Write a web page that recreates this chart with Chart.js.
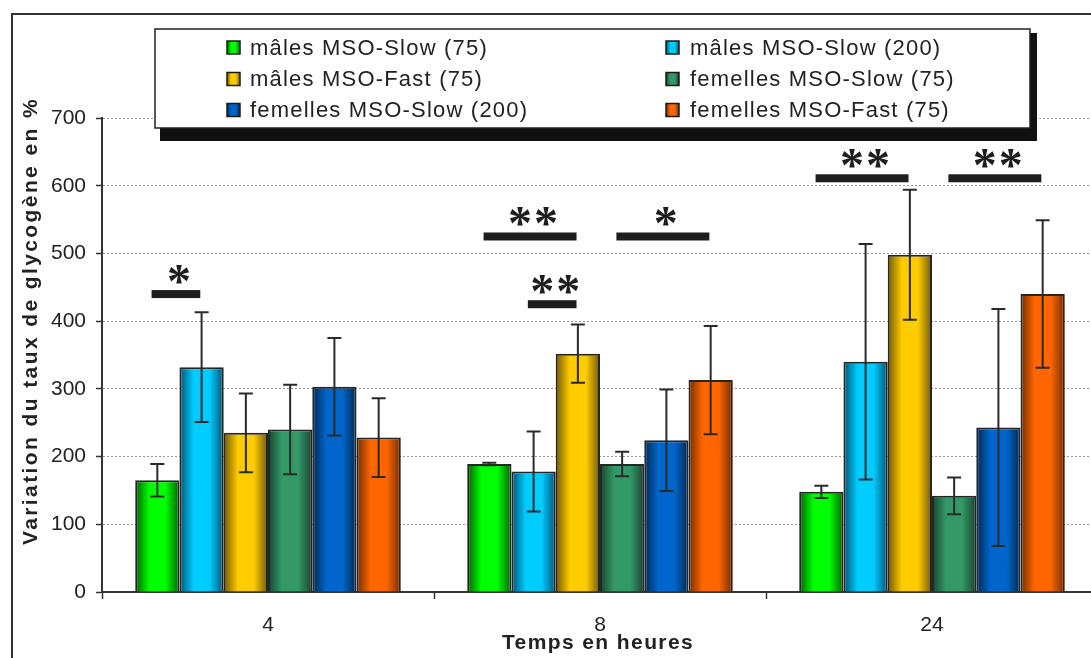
<!DOCTYPE html>
<html><head><meta charset="utf-8">
<script src="https://cdn.jsdelivr.net/npm/chart.js@4.4.1/dist/chart.umd.min.js"></script>
<style>html,body{margin:0;padding:0;overflow:hidden;background:#fff;width:1091px;height:658px}canvas{display:block}</style>
</head><body><canvas id="c" width="1120" height="658"></canvas>
<script>
// ---- data ----
const categories = ['4', '8', '24'];
const seriesLabels = ['mâles MSO-Slow (75)', 'mâles MSO-Slow (200)', 'mâles MSO-Fast (75)',
  'femelles MSO-Slow (75)', 'femelles MSO-Slow (200)', 'femelles MSO-Fast (75)'];
const malesSlow75 = [165, 189, 148];
const malesSlow200 = [332, 178, 340];
const malesFast75 = [235, 352, 498];
const femellesSlow75 = [240, 189, 142];
const femellesSlow200 = [303, 224, 243];
const femellesFast75 = [228, 313, 440];
const errMalesSlow75 = [24, 2, 9];
const errMalesSlow200 = [81, 59, 174];
const errMalesFast75 = [58, 43, 96];
const errFemellesSlow75 = [66, 18, 27];
const errFemellesSlow200 = [72, 75, 175];
const errFemellesFast75 = [58, 80, 109];
const yTicks = [0, 100, 200, 300, 400, 500, 600, 700];
const xTitle = 'Temps en heures';
const yTitle = 'Variation du taux de glycogène en %';
// significance brackets: category index, from series, to series, level, label
const sigCategory = [0, 1, 1, 1, 2, 2];
const sigFrom = [0, 0, 1, 3, 0, 3];
const sigTo = [1, 2, 2, 5, 2, 5];
const sigValue = [440, 525, 425, 525, 611, 611];
const sigLabel = ['*', '**', '**', '*', '**', '**'];

const seriesValues = [malesSlow75, malesSlow200, malesFast75, femellesSlow75, femellesSlow200, femellesFast75];
const seriesErrors = [errMalesSlow75, errMalesSlow200, errMalesFast75, errFemellesSlow75, errFemellesSlow200, errFemellesFast75];

// ---- styles ----
const palette = [
  {base: '#00ff00', dark: '#006000'},
  {base: '#00ccff', dark: '#005272'},
  {base: '#ffcc00', dark: '#725800'},
  {base: '#339966', dark: '#18442e'},
  {base: '#0066cc', dark: '#002852'},
  {base: '#ff6600', dark: '#722c00'}
];
const FONT = '"Liberation Sans", Arial, sans-serif';
const TEXT = '#222';

function makeGrad(ctx, x0, x1, p) {
  const g = ctx.createLinearGradient(x0, 0, x1, 0);
  g.addColorStop(0, p.dark);
  g.addColorStop(0.32, p.base);
  g.addColorStop(0.68, p.base);
  g.addColorStop(1, p.dark);
  return g;
}

const gradientPlugin = {
  id: 'grad',
  afterDatasetsUpdate(chart) {
    const ctx = chart.ctx;
    chart.data.datasets.forEach((ds, di) => {
      chart.getDatasetMeta(di).data.forEach(el => {
        const h = el.width / 2;
        el.options = Object.assign({}, el.options, {backgroundColor: makeGrad(ctx, el.x - h, el.x + h, palette[di])});
      });
    });
  }
};

const errorPlugin = {
  id: 'err',
  afterDatasetsDraw(chart) {
    const ctx = chart.ctx, y = chart.scales.y;
    ctx.save();
    ctx.strokeStyle = '#2a2a2a';
    ctx.lineWidth = 2;
    chart.data.datasets.forEach((ds, di) => {
      chart.getDatasetMeta(di).data.forEach((el, i) => {
        const v = ds.data[i], e = seriesErrors[di][i];
        const yt = y.getPixelForValue(v + e), yb = y.getPixelForValue(v - e);
        ctx.beginPath();
        ctx.moveTo(el.x, yt); ctx.lineTo(el.x, yb);
        ctx.moveTo(el.x - 7, yt); ctx.lineTo(el.x + 7, yt);
        ctx.moveTo(el.x - 7, yb); ctx.lineTo(el.x + 7, yb);
        ctx.stroke();
      });
    });
    ctx.restore();
  }
};

const sigPlugin = {
  id: 'sig',
  afterDatasetsDraw(chart) {
    const ctx = chart.ctx, y = chart.scales.y;
    ctx.save();
    ctx.fillStyle = '#1e1e1e';
    ctx.font = 'bold 48px "Liberation Serif", serif';
    ctx.textAlign = 'center';
    ctx.textBaseline = 'alphabetic';
    const m = ctx.measureText('*');
    const asc = m.actualBoundingBoxAscent, desc = m.actualBoundingBoxDescent;
    sigCategory.forEach((c, k) => {
      const a = chart.getDatasetMeta(sigFrom[k]).data[c];
      const b = chart.getDatasetMeta(sigTo[k]).data[c];
      const w = a.width;
      const x1 = a.x - 0.13 * w, x2 = b.x - 0.03 * w;
      const yc = y.getPixelForValue(sigValue[k]);
      ctx.fillRect(x1, yc - 4, x2 - x1, 8);
      const n = sigLabel[k].length;
      const cx = (x1 + x2) / 2 + 3;
      const cy = yc - 20;
      for (let s = 0; s < n; s++) {
        const sx = cx + (s - (n - 1) / 2) * 26;
        ctx.fillText('*', sx, cy + (asc - desc) / 2);
      }
    });
    ctx.restore();
  }
};

const decoPlugin = {
  id: 'deco',
  beforeDraw(chart) {
    const ctx = chart.ctx;
    ctx.save();
    ctx.fillStyle = '#fff';
    ctx.fillRect(0, 0, chart.width, chart.height);
    ctx.strokeStyle = '#333';
    ctx.lineWidth = 2;
    ctx.strokeRect(12, 14, 1300, 800);
    ctx.restore();
  },
  afterDraw(chart) {
    const ctx = chart.ctx;
    ctx.save();
    // axis titles
    ctx.fillStyle = TEXT;
    ctx.font = 'bold 21px ' + FONT;
    ctx.letterSpacing = '1.4px';
    ctx.textAlign = 'center';
    ctx.textBaseline = 'middle';
    ctx.fillText(xTitle, 598, 643);
    ctx.save();
    ctx.letterSpacing = '2.4px';
    ctx.translate(31, 321);
    ctx.rotate(-Math.PI / 2);
    ctx.fillText(yTitle, 0, 0);
    ctx.restore();
    // legend
    const L = 155, T = 29, W = 875, H = 99;
    ctx.fillStyle = '#111';
    ctx.fillRect(L + 5, T + 4, W + 2, H + 9);
    ctx.fillStyle = '#fff';
    ctx.fillRect(L, T, W, H);
    ctx.strokeStyle = '#222';
    ctx.lineWidth = 1.5;
    ctx.strokeRect(L, T, W, H);
    ctx.font = '22px ' + FONT;
    ctx.letterSpacing = '1.2px';
    ctx.textAlign = 'left';
    ctx.textBaseline = 'middle';
    const colMarker = [227, 666], colText = [250, 690], rows = [47.5, 79, 110];
    chart.data.datasets.forEach((ds, di) => {
      const col = di % 2, row = Math.floor(di / 2);
      const mx = colMarker[col], my = rows[row] - 6.5;
      ctx.fillStyle = makeGrad(ctx, mx, mx + 13, palette[di]);
      ctx.fillRect(mx, my, 13, 13);
      ctx.strokeStyle = '#1a1a1a';
      ctx.lineWidth = 1.5;
      ctx.strokeRect(mx, my, 13, 13);
      ctx.fillStyle = TEXT;
      ctx.fillText(ds.label, colText[col], rows[row] + 1);
    });
    ctx.restore();
  }
};

new Chart(document.getElementById('c'), {
  type: 'bar',
  data: {
    labels: categories,
    datasets: seriesValues.map((vals, i) => ({
      label: seriesLabels[i],
      data: vals,
      backgroundColor: palette[i].base,
      borderColor: '#262626',
      borderWidth: 2,
      categoryPercentage: 0.8,
      barPercentage: 1.0
    }))
  },
  options: {
    responsive: false,
    animation: false,
    devicePixelRatio: 1,
    layout: {padding: {top: 118, right: 22, bottom: 0, left: 0}},
    plugins: {legend: {display: false}, tooltip: {enabled: false}},
    scales: {
      x: {
        offset: true,
        grid: {display: true, offset: true, drawOnChartArea: false, drawTicks: true, tickLength: 7, tickColor: '#333', tickWidth: 1.5},
        border: {display: true, color: '#333', width: 2},
        ticks: {font: {family: FONT, size: 21}, color: TEXT, padding: 14},
        afterFit(s) { s.height = 66; }
      },
      y: {
        min: 0, max: 700,
        afterBuildTicks(s) { s.ticks = yTicks.map(v => ({value: v})); },
        ticks: {font: {family: FONT, size: 21}, color: TEXT, padding: 10},
        grid: {color: '#999', lineWidth: 1, drawTicks: true, tickLength: 6, tickColor: '#333', tickWidth: 1.5},
        border: {display: true, color: '#333', width: 2, dash: [2, 2]},
        afterFit(s) { s.width = 102; }
      }
    }
  },
  plugins: [gradientPlugin, errorPlugin, sigPlugin, decoPlugin]
});
</script>
</body></html>
